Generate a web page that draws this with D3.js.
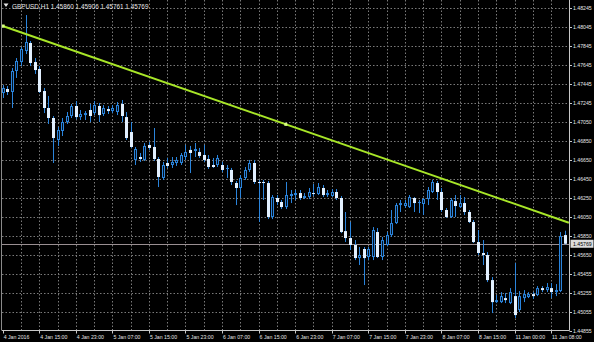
<!DOCTYPE html>
<html><head><meta charset="utf-8">
<script src="https://cdn.jsdelivr.net/npm/d3@7"></script>
<style>html,body{margin:0;padding:0;background:#000;}svg{display:block}</style>
</head><body>
<svg id="c" width="594" height="342"></svg>
<script>
const symbolTitle = "GBPUSD,H1";
const lastBar = ["1.45860", "1.45906", "1.45761", "1.45769"];

const open = [1.47350,1.47392,1.47361,1.47581,1.47675,1.47791,1.47875,1.47675,1.47602,1.47371,
1.47193,1.47088,1.46857,1.46952,1.47046,1.47109,1.47214,1.47098,1.47119,1.47172,
1.47140,1.47214,1.47130,1.47182,1.47161,1.47151,1.47235,1.47098,1.46941,1.46648,
1.46679,1.46648,1.46805,1.46784,1.46658,1.46459,1.46616,1.46595,1.46616,1.46616,
1.46679,1.46753,1.46742,1.46731,1.46700,1.46658,1.46595,1.46595,1.46595,1.46553,
1.46543,1.46406,1.46354,1.46459,1.46543,1.46616,1.46417,1.46417,1.46406,1.46049,
1.46249,1.46207,1.46154,1.46270,1.46280,1.46301,1.46249,1.46259,1.46301,1.46291,
1.46354,1.46280,1.46270,1.46312,1.46249,1.45902,1.45829,1.45756,1.45619,1.45714,
1.45630,1.45630,1.45892,1.45630,1.45756,1.45860,1.45986,1.46175,1.46165,1.46154,
1.46249,1.46196,1.46186,1.46238,1.46312,1.46406,1.46312,1.46123,1.46049,1.46217,
1.46154,1.46196,1.46102,1.45997,1.45787,1.45672,1.45651,1.45388,1.45157,1.45157,
1.45199,1.45147,1.45220,1.45074,1.45199,1.45210,1.45241,1.45231,1.45304,1.45283,
1.45304,1.45262,1.45273,1.45860];
const high = [1.47434,1.47424,1.47612,1.47717,1.47833,1.48168,1.47896,1.47717,1.47633,1.47403,
1.47319,1.47109,1.46994,1.47088,1.47151,1.47235,1.47267,1.47172,1.47161,1.47235,
1.47267,1.47246,1.47224,1.47214,1.47224,1.47256,1.47277,1.47151,1.47046,1.46784,
1.46721,1.46826,1.46836,1.46983,1.46679,1.46627,1.46669,1.46679,1.46679,1.46721,
1.46805,1.46795,1.46826,1.46774,1.46805,1.46700,1.46669,1.46700,1.46627,1.46595,
1.46564,1.46427,1.46490,1.46574,1.46648,1.46648,1.46438,1.46438,1.46427,1.46280,
1.46280,1.46228,1.46417,1.46333,1.46333,1.46333,1.46301,1.46354,1.46396,1.46406,
1.46385,1.46333,1.46343,1.46343,1.46270,1.46102,1.45997,1.45808,1.45735,1.45735,
1.45735,1.45944,1.45934,1.45840,1.45892,1.46123,1.46196,1.46228,1.46228,1.46280,
1.46259,1.46228,1.46249,1.46364,1.46438,1.46427,1.46354,1.46144,1.46249,1.46280,
1.46280,1.46259,1.46123,1.46018,1.45913,1.45808,1.45682,1.45420,1.45231,1.45262,
1.45252,1.45304,1.45567,1.45273,1.45283,1.45262,1.45262,1.45325,1.45325,1.45357,
1.45357,1.45346,1.45892,1.45906];
const low = [1.47298,1.47329,1.47193,1.47508,1.47633,1.47759,1.47633,1.47550,1.47350,1.47140,
1.47025,1.46616,1.46795,1.46899,1.47025,1.47088,1.47077,1.47067,1.47067,1.47046,
1.47119,1.47046,1.47109,1.47130,1.47140,1.47119,1.47046,1.46857,1.46774,1.46595,
1.46627,1.46637,1.46753,1.46637,1.46364,1.46438,1.46564,1.46564,1.46585,1.46595,
1.46648,1.46511,1.46679,1.46669,1.46627,1.46553,1.46564,1.46574,1.46522,1.46459,
1.46385,1.46175,1.46249,1.46438,1.46522,1.46396,1.45997,1.46228,1.46028,1.46028,
1.46175,1.46133,1.46133,1.46196,1.46228,1.46228,1.46238,1.46238,1.46270,1.46280,
1.46259,1.46259,1.46259,1.46228,1.45881,1.45787,1.45703,1.45598,1.45546,1.45336,
1.45598,1.45598,1.45619,1.45598,1.45745,1.45840,1.45976,1.46102,1.46144,1.46144,
1.46102,1.46091,1.46070,1.46175,1.46301,1.46228,1.46102,1.46039,1.46039,1.46049,
1.46144,1.46070,1.45986,1.45777,1.45651,1.45546,1.45367,1.45042,1.45147,1.45147,
1.45147,1.45136,1.44990,1.45053,1.45157,1.45199,1.45189,1.45220,1.45262,1.45262,
1.45199,1.45220,1.45262,1.45761];
const close = [1.47403,1.47361,1.47581,1.47686,1.47812,1.47885,1.47665,1.47591,1.47361,1.47193,
1.47088,1.46878,1.46962,1.47046,1.47109,1.47214,1.47098,1.47130,1.47140,1.47109,
1.47224,1.47119,1.47193,1.47161,1.47193,1.47224,1.47109,1.46878,1.46784,1.46763,
1.46658,1.46795,1.46774,1.46658,1.46469,1.46595,1.46585,1.46627,1.46648,1.46700,
1.46731,1.46721,1.46763,1.46690,1.46648,1.46574,1.46574,1.46669,1.46543,1.46564,
1.46417,1.46354,1.46459,1.46543,1.46616,1.46417,1.46406,1.46406,1.46049,1.46259,
1.46207,1.46154,1.46280,1.46291,1.46301,1.46249,1.46270,1.46312,1.46291,1.46364,
1.46280,1.46301,1.46312,1.46249,1.45892,1.45829,1.45756,1.45619,1.45651,1.45619,
1.45714,1.45913,1.45630,1.45808,1.45860,1.45986,1.46175,1.46196,1.46196,1.46259,
1.46196,1.46207,1.46238,1.46333,1.46417,1.46312,1.46123,1.46049,1.46228,1.46165,
1.46196,1.46102,1.45997,1.45787,1.45672,1.45651,1.45388,1.45157,1.45178,1.45220,
1.45178,1.45262,1.45021,1.45220,1.45241,1.45241,1.45220,1.45304,1.45283,1.45315,
1.45262,1.45283,1.45850,1.45769];

const priceTicks = ["1.48245","1.48045","1.47845","1.47645","1.47445","1.47245","1.47050","1.46850","1.46650",
"1.46450","1.46250","1.46050","1.45850","1.45650","1.45455","1.45255","1.45055","1.44855"];
const timeTicks = ["4 Jan 2016","4 Jan 15:00","4 Jan 23:00","5 Jan 07:00","5 Jan 15:00","5 Jan 23:00","6 Jan 07:00",
"6 Jan 15:00","6 Jan 23:00","7 Jan 07:00","7 Jan 15:00","7 Jan 23:00","8 Jan 07:00","8 Jan 15:00","11 Jan 00:00","11 Jan 08:00"];
const timeTickBars = [0,8,16,24,32,40,48,56,64,72,80,88,96,104,112,120];
const gridBars = [4,8,12,16,20,24,28,32,36,40,44,48,52,56,60,64,68,72,76,80,84,88,92,96,100,104,108,112,116,120];
const trendBars = [0, 123.9];
const trendPrices = [1.48053, 1.45990];
const bid = 1.45769;

const W = 594, H = 342;
const plotL = 2, plotR = 569.5, plotT = 0, plotB = 330.5;
const blue = "#2a84dc", bearFill = "#e2f0ff", gridCol = "#7a7a7a", axisCol = "#c8c8c8", textCol = "#e6e6e6";
const font = "Liberation Sans, Arial, sans-serif";

const x = d3.scaleLinear().domain([0, 123]).range([2.7, 564.8]);
const y = d3.scaleLinear().domain([1.44855, 1.48245]).range([330.9, 7.7]);
const px = v => Math.round(v) + 0.5;

const svg = d3.select("#c");
svg.append("rect").attr("width", W).attr("height", H).attr("fill", "#000");

// grid
const grid = svg.append("g").attr("stroke", gridCol).attr("stroke-width", 1).attr("stroke-dasharray", "1.5,2");
grid.selectAll("line.v").data(gridBars).join("line")
  .attr("x1", d => px(x(d))).attr("x2", d => px(x(d)))
  .attr("y1", plotT).attr("y2", plotB);
grid.selectAll("line.h").data(priceTicks.slice(0, -1)).join("line")
  .attr("x1", plotL).attr("x2", plotR)
  .attr("y1", d => px(y(+d))).attr("y2", d => px(y(+d)));

// bid line
svg.append("line").attr("x1", plotL).attr("x2", plotR)
  .attr("y1", px(y(bid))).attr("y2", px(y(bid)))
  .attr("stroke", "#9a8f92").attr("stroke-width", 1);

// candles
const bars = d3.range(open.length).map(i => ({i, o: open[i], h: high[i], l: low[i], c: close[i]}));
const cg = svg.append("g");
cg.selectAll("line.w").data(bars).join("line")
  .attr("x1", d => px(x(d.i))).attr("x2", d => px(x(d.i)))
  .attr("y1", d => y(d.h)).attr("y2", d => y(d.l))
  .attr("stroke", blue).attr("stroke-width", 1);
cg.selectAll("rect.b").data(bars).join("rect")
  .attr("x", d => Math.round(x(d.i)) - 1)
  .attr("width", 3)
  .attr("y", d => y(Math.max(d.o, d.c)))
  .attr("height", d => Math.max(1, Math.abs(y(d.o) - y(d.c))))
  .attr("fill", d => d.c < d.o ? bearFill : blue);
cg.selectAll("line.in").data(bars.filter(d => d.c >= d.o && Math.abs(y(d.o) - y(d.c)) > 2)).join("line")
  .attr("x1", d => px(x(d.i))).attr("x2", d => px(x(d.i)))
  .attr("y1", d => y(d.c) + 1).attr("y2", d => y(d.o) - 1)
  .attr("stroke", "#06121f").attr("stroke-width", 1);

// trend line
const tl = svg.append("g");
tl.append("line")
  .attr("x1", x(trendBars[0])).attr("y1", y(trendPrices[0]))
  .attr("x2", x(trendBars[1])).attr("y2", y(trendPrices[1]))
  .attr("stroke", "#a8e628").attr("stroke-width", 2);
const midBar = (trendBars[0] + trendBars[1]) / 2, midPrice = (trendPrices[0] + trendPrices[1]) / 2;
tl.append("rect").attr("x", x(midBar) - 1.5).attr("y", y(midPrice) - 1.5).attr("width", 3).attr("height", 3).attr("fill", "#d8ff80");
tl.append("rect").attr("x", x(trendBars[0]) - 1).attr("y", y(trendPrices[0]) - 1.5).attr("width", 3).attr("height", 3).attr("fill", "#d8ff80");

// borders
svg.append("line").attr("x1", plotL).attr("x2", plotR).attr("y1", plotB).attr("y2", plotB).attr("stroke", axisCol);
svg.append("line").attr("x1", plotR).attr("x2", plotR).attr("y1", 0).attr("y2", plotB).attr("stroke", axisCol);
svg.append("line").attr("x1", 1.5).attr("x2", 1.5).attr("y1", 0).attr("y2", plotB).attr("stroke", "#8a8a8a");

// right axis
const ra = svg.append("g");
ra.selectAll("line").data(priceTicks).join("line")
  .attr("x1", plotR).attr("x2", plotR + 2.5)
  .attr("y1", d => px(y(+d))).attr("y2", d => px(y(+d))).attr("stroke", axisCol);
ra.selectAll("text").data(priceTicks).join("text")
  .attr("x", 573).attr("y", d => y(+d) + 2)
  .attr("fill", textCol).attr("font-family", font).attr("font-size", 5.2)
  .text(d => d);
// bid label
svg.append("rect").attr("x", 570.5).attr("y", y(bid) - 4).attr("width", 23).attr("height", 8).attr("fill", "#dcdcdc");
svg.append("text").attr("x", 573).attr("y", y(bid) + 2).attr("fill", "#000")
  .attr("font-family", font).attr("font-size", 5.2).text(bid.toFixed(5));

// bottom axis
const ba = svg.append("g");
ba.selectAll("line").data(timeTickBars).join("line")
  .attr("x1", d => px(x(d))).attr("x2", d => px(x(d)))
  .attr("y1", plotB).attr("y2", plotB + 3).attr("stroke", axisCol);
ba.selectAll("text").data(timeTicks).join("text")
  .attr("x", (d, i) => x(timeTickBars[i]) + 1).attr("y", 339)
  .attr("fill", textCol).attr("font-family", font).attr("font-size", 5.2)
  .text(d => d);

// header
svg.append("path").attr("d", "M3.5,3.5 L8.5,3.5 L6,7 Z").attr("fill", "#e6e6e6");
svg.append("text").attr("x", 12).attr("y", 8.5).attr("fill", textCol)
  .attr("font-family", font).attr("font-size", 6.4)
  .text(symbolTitle + "  " + lastBar.join(" "));
</script>
</body></html>
